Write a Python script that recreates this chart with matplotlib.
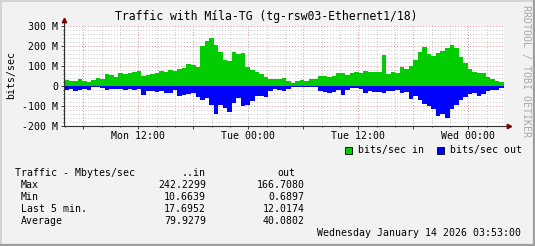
import numpy as np
import matplotlib.pyplot as plt
from matplotlib.ticker import MultipleLocator
from matplotlib.patches import Rectangle
from matplotlib.lines import Line2D

# traffic in Mbit/s, one value per half hour, Mon 03:53 -> Wed 03:53
bits_in = [28, 22, 23, 32, 25, 18, 28, 40, 35, 58, 55, 45, 62, 58, 65, 68, 75, 50, 52, 58, 65, 73, 68, 78, 75,
           83, 88, 110, 105, 95, 200, 225, 240, 205, 170, 128, 125, 170, 160, 165, 95, 78, 68, 58, 42, 35, 33, 35, 38,
           22, 15, 25, 28, 25, 33, 33, 48, 48, 45, 50, 65, 62, 55, 62, 70, 62, 72, 68, 67, 67, 155, 60, 67,
           65, 95, 85, 100, 130, 170, 195, 160, 150, 165, 175, 190, 205, 190, 145, 115, 85, 67, 62, 65, 42, 33, 25, 17]
bits_out = [22, 15, 25, 20, 17, 22, 8, 8, 13, 20, 17, 17, 17, 22, 15, 20, 17, 48, 28, 25, 33, 28, 35, 38, 22,
            50, 45, 40, 38, 58, 70, 60, 95, 140, 95, 110, 130, 88, 60, 100, 95, 75, 50, 50, 55, 28, 17, 20, 25,
            15, 6, 5, 6, 7, 5, 6, 28, 33, 35, 30, 22, 45, 20, 12, 12, 18, 35, 28, 30, 33, 38, 28, 25,
            22, 38, 30, 65, 52, 70, 90, 100, 115, 150, 140, 160, 115, 95, 72, 58, 42, 35, 50, 40, 28, 22, 20, 12]

start_hour = 3 + 53 / 60   # Mon 03:53, counted from Mon 00:00
span_hours = 48

y_ticks = [-200, -100, 0, 100, 200, 300]
y_labels = ["-200 M", "-100 M", "0", "100 M", "200 M", "300 M"]
x_ticks = [12, 24, 36, 48]
x_labels = ["Mon 12:00", "Tue 00:00", "Tue 12:00", "Wed 00:00"]

stat_names = ["Max", "Min", "Last 5 min.", "Average"]
stat_in = ["242.2299", "10.6639", "17.6952", "79.9279"]
stat_out = ["166.7080", "0.6897", "12.0174", "40.0802"]

plt.rcParams['font.family'] = ['DejaVu Sans Mono']

W, H = 535, 246
def fx(x): return x / W
def fy(y): return 1 - y / H

fig = plt.figure(figsize=(W / 100, H / 100), dpi=100, facecolor="#f2f2f2")

# plot area in pixels: x 64..504, y 25.5..125.5
ax = fig.add_axes([fx(64), fy(125.5), (504 - 64) / W, 100 / H])
ax.set_facecolor("white")

edges = start_hour + np.linspace(0, span_hours, len(bits_in) + 1)
ax.stairs(bits_in, edges, baseline=0, fill=True, color="#00cc00", zorder=3)
ax.stairs(-np.array(bits_out), edges, baseline=0, fill=True, color="#0000ff", zorder=3)

ax.set_xlim(start_hour, start_hour + span_hours)
ax.set_ylim(-200, 300)

# grid: grey every 2h / 20M, red every 6h / 100M
major_x = np.arange(6, 52, 6)
ax.set_xticks(major_x)
ax.set_xticklabels([x_labels[x_ticks.index(t)] if t in x_ticks else "" for t in major_x])
ax.xaxis.set_minor_locator(MultipleLocator(2))
ax.set_yticks(y_ticks)
ax.set_yticklabels(y_labels)
ax.yaxis.set_minor_locator(MultipleLocator(20))
ax.set_axisbelow(True)
ax.grid(which="minor", color="#c4c4c4", linestyle=(0, (1, 2)), linewidth=0.7)
ax.grid(which="major", color="#e49090", linestyle=(0, (1, 2)), linewidth=0.7)
ax.tick_params(which="both", labelsize=7.1, length=2, width=0.7, color="#404040", pad=2)
ax.tick_params(which="minor", length=1)
for s in ax.spines.values():
    s.set_visible(False)

# axes with small arrows
fig.add_artist(Line2D([fx(64), fx(508)], [fy(125.5), fy(125.5)], color="#303030", lw=0.8))
fig.add_artist(Line2D([fx(64), fx(64)], [fy(125.5), fy(21)], color="#303030", lw=0.8))
fig.add_artist(Line2D([fx(509)], [fy(125.5)], marker=">", markersize=3.2, color="#800000", lw=0))
fig.add_artist(Line2D([fx(64)], [fy(20)], marker="^", markersize=3.2, color="#800000", lw=0))

fig.text(fx(266), fy(16.5), "Traffic with Míla-TG (tg-rsw03-Ethernet1/18)",
         ha="center", va="center", fontsize=8.3)
fig.text(fx(10.7), fy(75), "bits/sec", rotation=90, ha="center", va="center", fontsize=7.1)
fig.text(fx(525.5), fy(71), "RRDTOOL / TOBI OETIKER", rotation=270, ha="center", va="center",
         fontsize=7.1, color="#a8a8a8")

# legend
fig.add_artist(Rectangle((fx(344.5), fy(153.5)), 7 / W, 7 / H, facecolor="#00cc00",
                         edgecolor="black", lw=0.6))
fig.text(fx(357.7), fy(150), "bits/sec in", ha="left", va="center", fontsize=7.1)
fig.add_artist(Rectangle((fx(436.7), fy(153.5)), 7 / W, 7 / H, facecolor="#0000ff",
                         edgecolor="black", lw=0.6))
fig.text(fx(450), fy(150), "bits/sec out", ha="left", va="center", fontsize=7.1)

# statistics table
fig.text(fx(15), fy(173.3), "Traffic - Mbytes/sec", ha="left", va="center", fontsize=7.1)
fig.text(fx(206), fy(173.3), "..in", ha="right", va="center", fontsize=7.1)
fig.text(fx(295), fy(173.3), "out", ha="right", va="center", fontsize=7.1)
for i, name in enumerate(stat_names):
    y = 185.5 + 12 * i
    fig.text(fx(20.7), fy(y), name, ha="left", va="center", fontsize=7.1)
    fig.text(fx(206), fy(y), stat_in[i], ha="right", va="center", fontsize=7.1)
    fig.text(fx(304.3), fy(y), stat_out[i], ha="right", va="center", fontsize=7.1)

fig.text(fx(521), fy(233.3), "Wednesday January 14 2026 03:53:00", ha="right", va="center", fontsize=7.1)

# 3d-ish frame
fig.add_artist(Line2D([0, 1], [fy(0.5), fy(0.5)], color="#d4d4d4", lw=1.4))
fig.add_artist(Line2D([fx(0.5), fx(0.5)], [0, 1], color="#d4d4d4", lw=1.4))
fig.add_artist(Line2D([0, 1], [fy(245), fy(245)], color="#9e9e9e", lw=1.6))
fig.add_artist(Line2D([fx(534), fx(534)], [0, 1], color="#9e9e9e", lw=1.6))

fig.savefig("out.png", dpi=100, facecolor=fig.get_facecolor())
